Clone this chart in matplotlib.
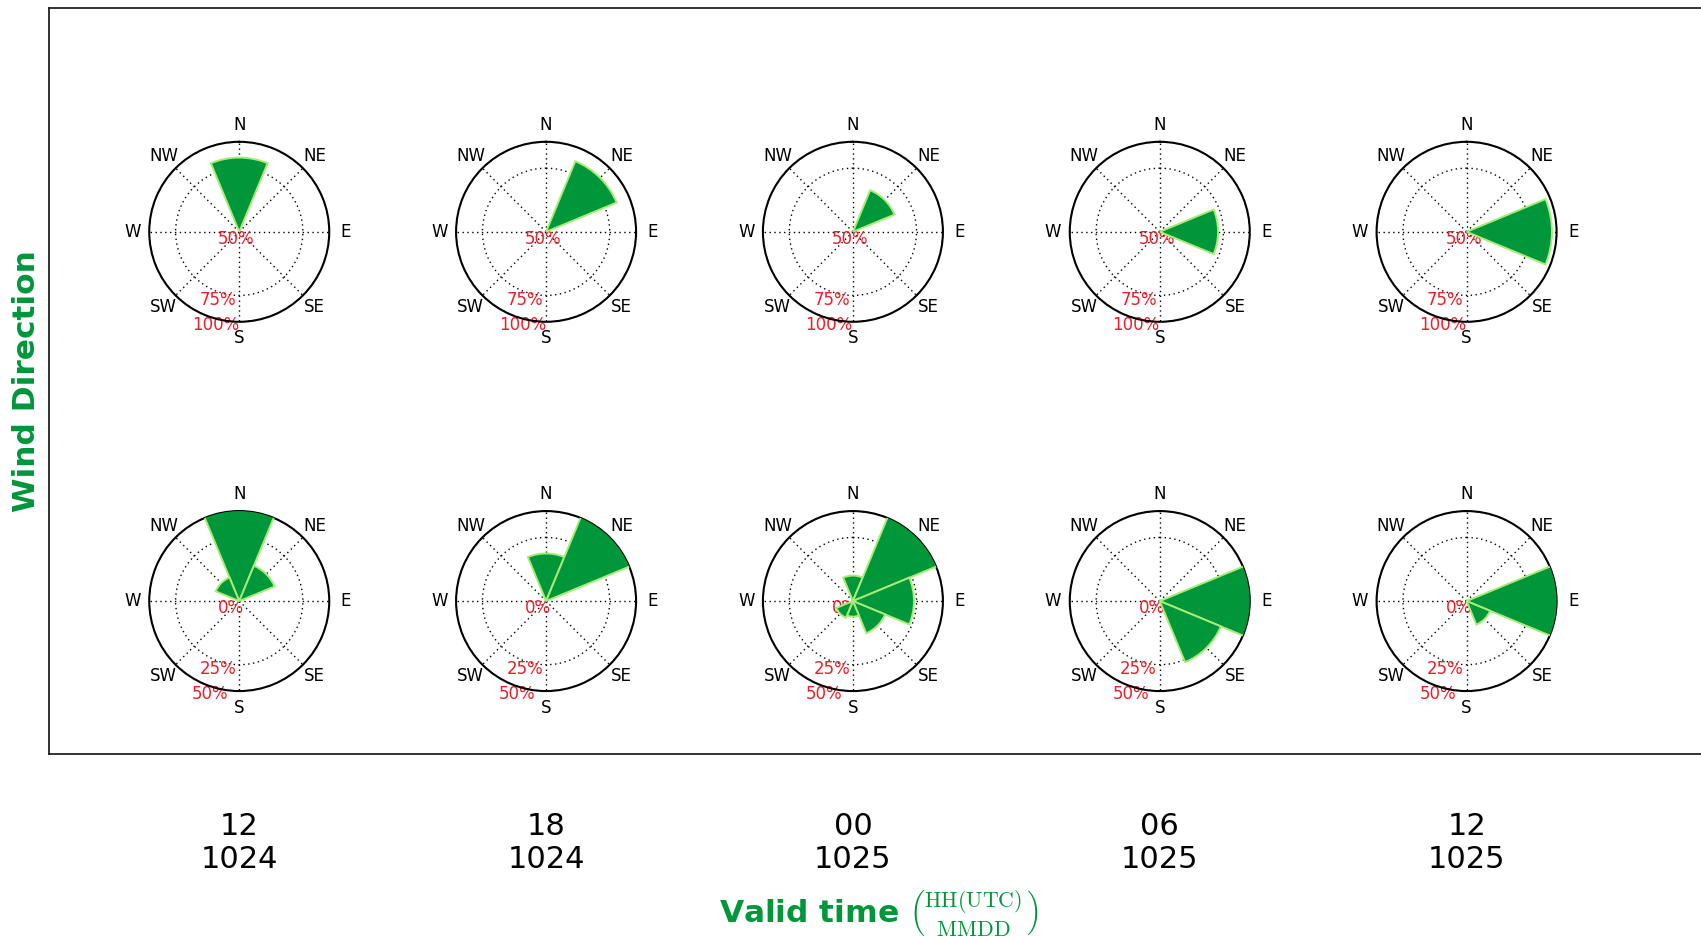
import numpy as np
import matplotlib
matplotlib.use('Agg')
import matplotlib.pyplot as plt
from matplotlib.transforms import ScaledTranslation

# valid times, HH(UTC) over MMDD
hours = ['12', '18', '00', '06', '12']
days = ['1024', '1024', '1025', '1025', '1025']

sectors = ['N', 'NE', 'E', 'SE', 'S', 'SW', 'W', 'NW']

# upper row: percent per sector, radial axis runs 50% -> 100%
upper_pct = [
    [84, 0, 0, 0, 0, 0, 0, 0],
    [0, 86, 0, 0, 0, 0, 0, 0],
    [0, 62.5, 0, 0, 0, 0, 0, 0],
    [0, 0, 71, 0, 0, 0, 0, 0],
    [0, 0, 95, 0, 0, 0, 0, 0],
]
upper_ticks = [50, 75, 100]

# lower row: percent per sector, radial axis runs 0% -> 50%
lower_pct = [
    [87, 9, 0, 0, 0, 0, 0, 4],
    [14, 86, 0, 0, 0, 0, 0, 0],
    [4, 62, 23, 7.5, 1.5, 2, 0, 0],
    [0, 0, 73, 27, 0, 0, 0, 0],
    [0, 0, 96, 4, 0, 0, 0, 0],
]
lower_ticks = [0, 25, 50]

green = '#00963a'
W, H = 1701, 936
fig = plt.figure(figsize=(W / 100, H / 100), dpi=100)

# outer frame holding the roses
ax = fig.add_axes([49 / W, 182 / H, 1660 / W, 746 / H])
ax.set_xlim(-0.62, 4.79)
ax.set_ylim(0, 1)
ax.set_xticks(range(len(hours)))
ax.set_xticklabels([f'{h}\n{d}' for h, d in zip(hours, days)], fontsize=22,
                   linespacing=1.15)
ax.tick_params(axis='x', length=0, pad=42)
ax.set_yticks([])
for s in ax.spines.values():
    s.set_linewidth(1.3)
    s.set_color('#222222')
ax.set_xlabel(r'Valid time $\binom{\mathrm{HH(UTC)}}{\mathrm{MMDD}}$',
              fontsize=22.5, fontweight='bold', color=green, labelpad=10,
              math_fontfamily='cm')
ax.set_ylabel('Wind Direction', fontsize=22.5, fontweight='bold', color=green,
              labelpad=6)

row_y = [0.70, 0.205]
radius = 90


def sqrt_r(base):
    # area-like radial scale starting at base
    def fwd(r):
        return np.sqrt(np.clip(np.asarray(r, dtype=float) - base, 0, None))

    def inv(s):
        return np.asarray(s, dtype=float) ** 2 + base
    return fwd, inv


theta = np.deg2rad(np.arange(0, 360, 45))
to_fig = fig.transFigure.inverted()
rlabel_shift = ScaledTranslation(-0.21, -0.16, fig.dpi_scale_trans)

for row, (data, ticks) in enumerate([(upper_pct, upper_ticks),
                                     (lower_pct, lower_ticks)]):
    base = ticks[0]
    for i, vals in enumerate(data):
        cx, cy = ax.transData.transform((i, row_y[row]))
        x0, y0 = to_fig.transform((cx - radius, cy - radius))
        x1, y1 = to_fig.transform((cx + radius, cy + radius))
        pax = fig.add_axes([x0, y0, x1 - x0, y1 - y0], projection='polar')
        pax.set_theta_zero_location('N')
        pax.set_theta_direction(-1)
        pax.set_rscale('function', functions=sqrt_r(base))
        vals = np.asarray(vals, dtype=float)
        keep = vals > base
        pax.bar(theta[keep], vals[keep] - base, bottom=base, width=np.pi / 4,
                color=green, edgecolor='#a8ec78', linewidth=1.4, zorder=3)
        pax.set_ylim(ticks[0], ticks[-1])
        pax.set_thetagrids(np.arange(0, 360, 45), sectors, fontsize=12)
        pax.set_rgrids(ticks, [f'{t}%' for t in ticks], fontsize=12,
                       color='#e8202a')
        pax.set_rlabel_position(197)
        for lab in pax.get_yticklabels():
            lab.set_transform(lab.get_transform() + rlabel_shift)
        pax.grid(True, linestyle=(0, (1, 2.5)), color='black', linewidth=1)
        pax.spines['polar'].set_linewidth(1.5)
        pax.tick_params(axis='x', pad=1.5)

fig.savefig('out.png', dpi=100)
